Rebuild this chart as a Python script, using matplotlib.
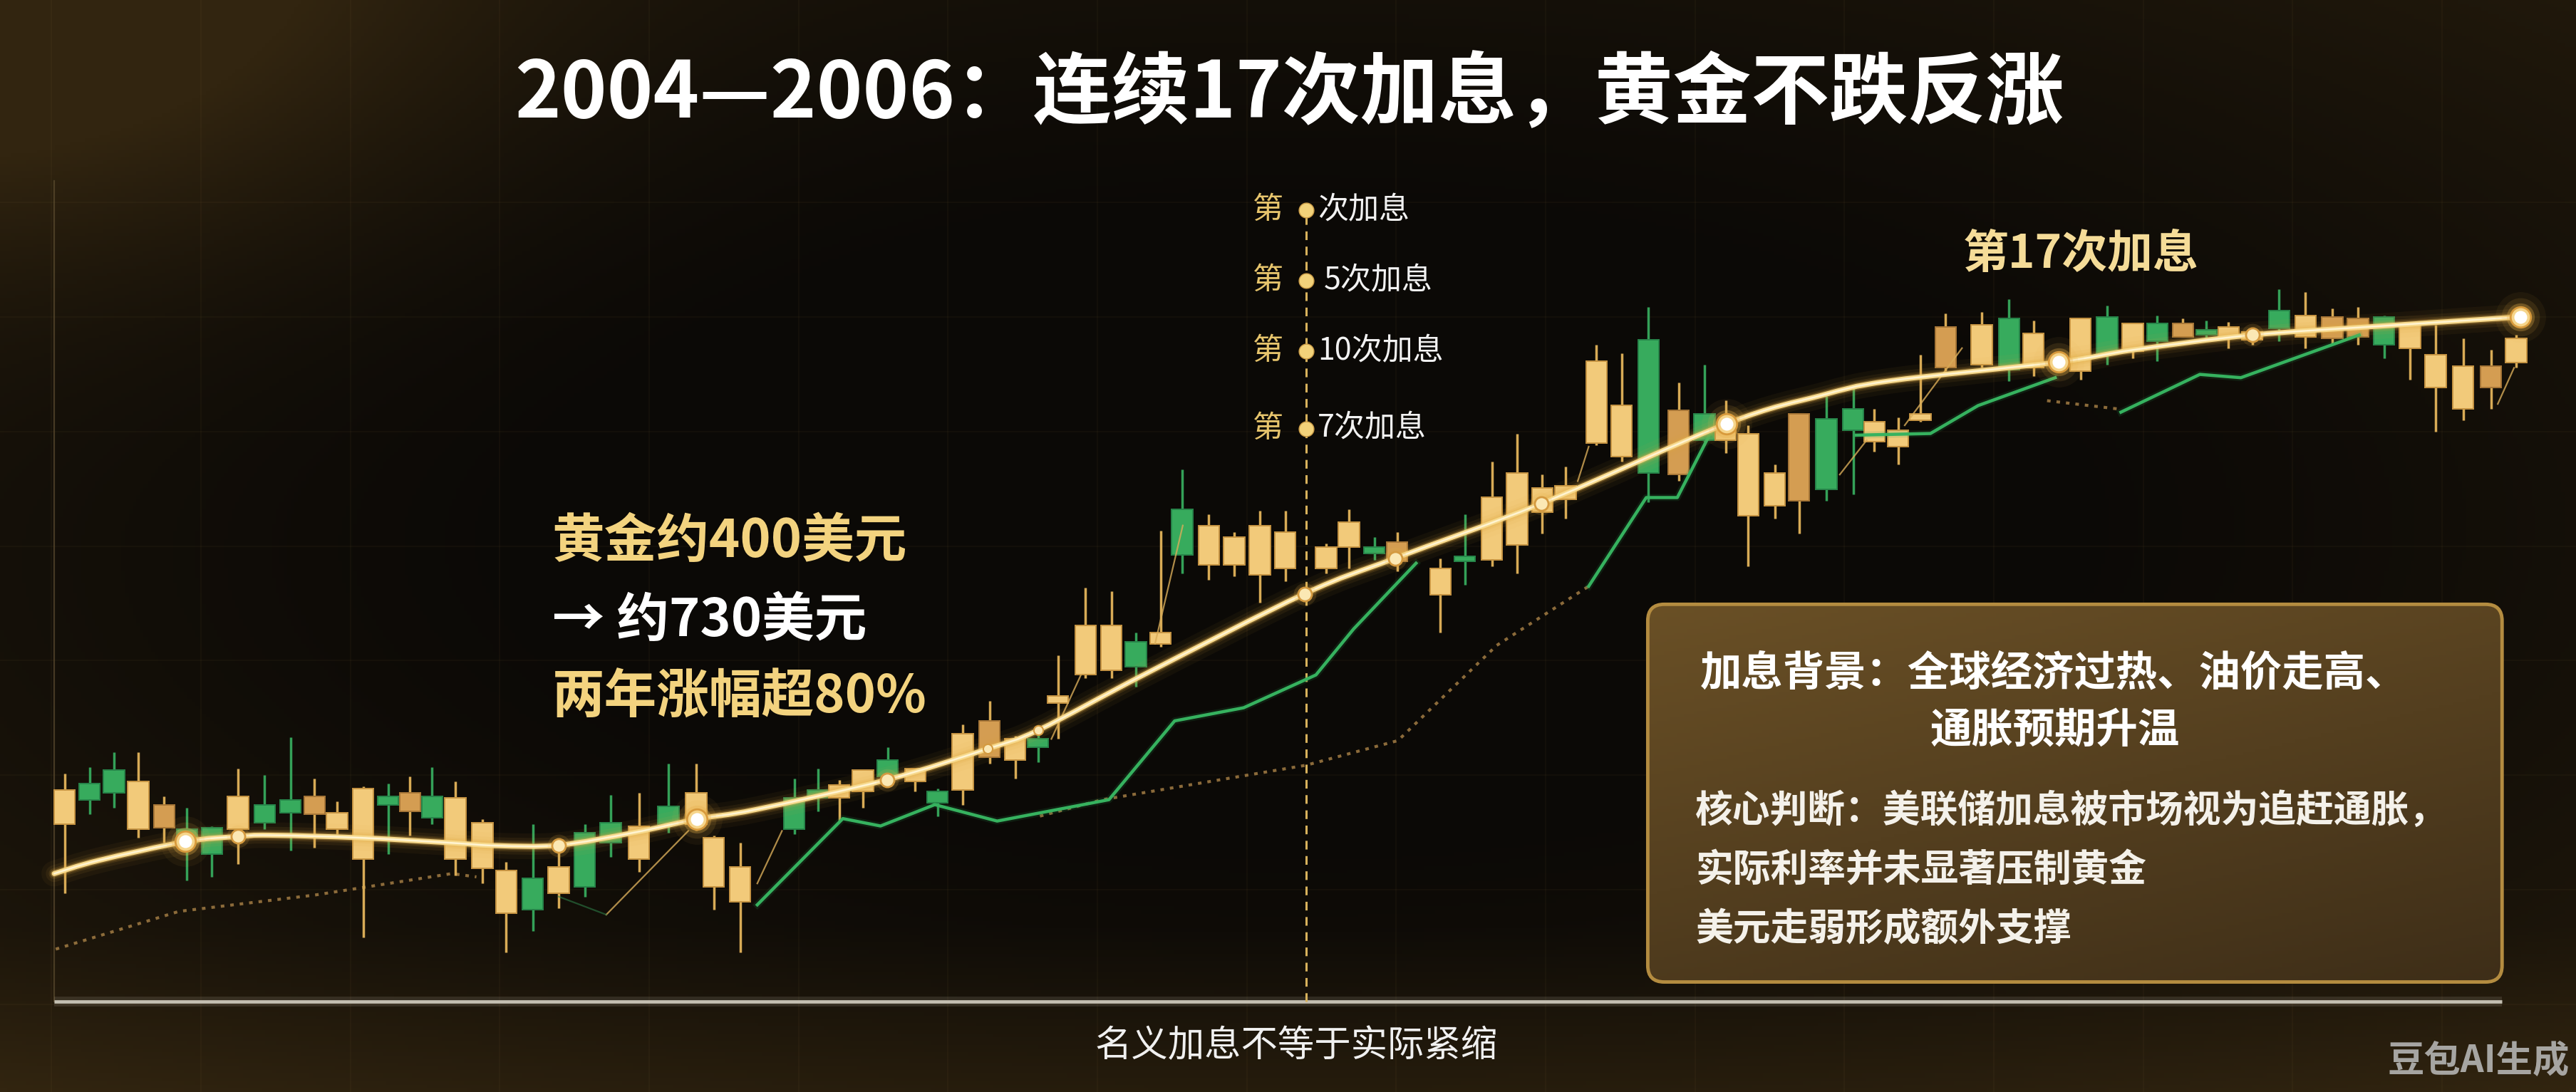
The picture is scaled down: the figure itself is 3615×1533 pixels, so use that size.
import numpy as np
import matplotlib
matplotlib.use("Agg")
import matplotlib.pyplot as plt
from matplotlib.patches import FancyBboxPatch, PathPatch
from matplotlib.path import Path

plt.rcParams["font.family"] = ["Noto Sans CJK SC", "DejaVu Sans"]

# -------------------- Data -------------------- #
# x = weeks from the left edge of the chart, prices in USD/oz

weeks = [0.41, 1.39, 2.35, 3.30, 4.32, 5.21, 6.19, 7.22, 8.26, 9.28,
         10.22, 11.11, 12.13, 13.11, 13.97, 14.84, 15.75, 16.82, 17.75, 18.79,
         19.81, 20.84, 21.85, 22.96, 24.12, 25.21, 25.90, 26.94, 29.06, 30.00,
         30.83, 31.76, 32.73, 33.81, 34.69, 35.68, 36.73, 37.74, 38.63, 39.42,
         40.50, 41.52, 42.48, 43.45, 44.30, 45.34, 46.34, 47.35, 48.34, 49.95,
         50.84, 51.84, 52.74, 54.44, 55.40, 56.46, 57.45, 58.44, 59.35, 60.56,
         61.55, 62.61, 63.79, 64.81, 65.64, 66.52, 67.57, 68.52, 69.59, 70.65,
         71.48, 72.41, 73.29, 74.28, 75.69, 76.77, 77.73, 79.57, 80.62, 81.63,
         82.59, 83.59, 84.52, 85.39, 86.32, 87.37, 88.41, 89.46, 90.47, 91.50,
         92.51, 93.52, 94.60, 95.69, 96.68]
opens = [418, 443, 451, 415, 416, 415, 416, 415, 430, 433,
         424, 415, 397, 435, 426, 435, 397, 391, 364, 385,
         376, 413, 419, 397, 429, 418, 380, 371, 434, 439,
         434, 438, 457, 444, 438, 439, 459, 457, 470, 492,
         509, 512, 529, 528, 610, 576, 576, 570, 574, 574,
         587, 587, 578, 558, 581, 579, 588, 608, 616, 650,
         642, 713, 631, 668, 652, 606, 612, 615, 665, 671,
         651, 648, 664, 696, 698, 726, 696, 694, 727, 706,
         723, 715, 719, 715, 713, 731, 715, 714, 715, 727,
         708, 684, 671, 684, 699]
highs = [449, 453, 462, 462, 435, 428, 417, 452, 448, 471,
         446, 432, 441, 443, 447, 453, 444, 421, 395, 418,
         407, 418, 436, 437, 455, 455, 411, 407, 446, 452,
         445, 451, 465, 452, 440, 479, 493, 472, 478, 521,
         562, 560, 535, 597, 634, 607, 596, 609, 609, 589,
         610, 593, 596, 580, 607, 639, 656, 631, 636, 710,
         705, 733, 687, 698, 676, 661, 637, 668, 679, 684,
         671, 666, 704, 729, 730, 738, 725, 726, 734, 723,
         728, 726, 725, 724, 720, 744, 742, 732, 733, 728,
         723, 722, 714, 707, 716]
lows = [376, 424, 428, 410, 407, 384, 386, 394, 415, 402,
        404, 412, 349, 400, 411, 418, 387, 382, 340, 353,
        367, 374, 398, 389, 413, 414, 366, 340, 412, 426,
        420, 428, 444, 438, 423, 430, 455, 446, 456, 470,
        507, 507, 502, 526, 571, 567, 569, 553, 566, 571,
        574, 579, 572, 535, 564, 575, 571, 595, 604, 649,
        639, 614, 627, 651, 644, 575, 604, 595, 615, 619,
        645, 637, 663, 694, 696, 688, 691, 689, 698, 702,
        700, 715, 712, 708, 710, 712, 708, 710, 710, 702,
        689, 657, 664, 671, 696]
closes = [439, 433, 437, 444, 430, 407, 400, 435, 419, 425,
          435, 425, 440, 430, 437, 422, 434, 419, 390, 366,
          392, 380, 407, 417, 418, 437, 410, 392, 415, 434,
          442, 451, 447, 452, 431, 473, 481, 470, 465, 496,
          539, 539, 514, 535, 582, 600, 593, 600, 596, 587,
          602, 583, 590, 574, 578, 617, 632, 623, 624, 700,
          673, 632, 670, 652, 659, 656, 632, 668, 622, 658,
          663, 658, 668, 721, 722, 695, 717, 726, 705, 723,
          712, 723, 716, 721, 718, 720, 728, 727, 726, 710,
          723, 704, 697, 697, 714]
# candles drawn in the darker gold tone (0-based)
dark_gold = [4, 10, 14, 36, 52, 62, 67, 73, 81, 87, 88, 93]

# smooth gold trend line
trend_w = [0, 1.74, 5.16, 7.23, 8.45, 12.06, 15.61, 17.42, 19.81, 22.77,
           25.23, 27.55, 32.71, 36.65, 38.65, 42.90, 49.10, 52.65, 58.39, 65.68,
           69.35, 72.06, 78.71, 81.68, 86.32, 91.42, 96.84]
trend_p = [388, 396, 407.5, 410.6, 411.4, 409.8, 406.7, 405.0, 405.3, 413,
           421.2, 427, 445.2, 464, 475.4, 510, 558.4, 580, 613.3, 662,
           679, 688, 699.5, 707, 716, 721.5, 727]
marker_big = [2, 10, 19, 22, 26]
marker_mid = [3, 8, 12, 16, 17, 18, 24]
marker_small = [13, 14]

# green line pieces
green_a_w = [27.61, 30.97, 32.45, 34.58, 37.03, 41.42, 44.00, 46.71, 49.55, 51.03, 53.48]
green_a_p = [369, 421.5, 417, 430, 420, 433, 481, 489, 509, 537, 577]
green_b_w = [60.26, 62.52, 63.74, 65.10, 65.61]
green_b_p = [563, 617, 617, 658, 664]
green_c_w = [70.77, 73.68, 75.55, 78.58]
green_c_p = [655, 656, 673, 690]
green_d_w = [81.16, 84.26, 85.87, 90.52]
green_d_p = [669, 692, 690, 716]

# faint dotted line pieces
dot_a_w = [0.06, 4.90, 10.26, 15.61, 16.58]
dot_a_p = [342, 365, 375, 388, 386]
dot_b_w = [38.71, 41.16, 49.16, 52.77, 54.77, 56.65, 60.26]
dot_b_p = [423, 433, 454, 469, 499, 527, 563]
dot_c_w = [78.26, 81.03]
dot_c_p = [676, 671]

# short thin gold strokes
thin_w0 = [27.61, 39.16, 43.23, 59.83, 70.12, 72.67, 95.96, 21.68]
thin_p0 = [382, 470, 528, 627, 631, 661, 674, 363]
thin_w1 = [28.58, 40.32, 44.32, 60.26, 71.18, 74.92, 96.60, 24.90]
thin_p1 = [414, 509, 600, 648, 652, 708, 696, 414]

hike_week = 49.16
hike_labels = ["次加息", "5次加息", "10次加息", "7次加息"]

title = "2004—2006：连续17次加息，黄金不跌反涨"
left_lines = ["黄金约400美元", "→ 约730美元", "两年涨幅超80%"]
box_head = ["加息背景：全球经济过热、油价走高、", "通胀预期升温"]
box_body = ["核心判断：美联储加息被市场视为追赶通胀，",
            "实际利率并未显著压制黄金",
            "美元走弱形成额外支撑"]
footer = "名义加息不等于实际紧缩"


def smooth_path(xs, ys):
    """Catmull-Rom curve through the read points, as cubic Bezier segments."""
    pts = np.column_stack([xs, ys]).astype(float)
    ext = np.vstack([pts[0], pts, pts[-1]])
    verts = [pts[0]]
    codes = [Path.MOVETO]
    for i in range(1, len(ext) - 2):
        p0, p1, p2, p3 = ext[i - 1], ext[i], ext[i + 1], ext[i + 2]
        verts += [p1 + (p2 - p0) / 6, p2 - (p3 - p1) / 6, p2]
        codes += [Path.CURVE4] * 3
    return Path(verts, codes)


# -------------------- Figure -------------------- #
fig = plt.figure(figsize=(36.15, 15.33), dpi=100)
fig.patch.set_facecolor("#0c0a07")

# background gradient
bg = fig.add_axes([0, 0, 1, 1], zorder=0)
bg.axis("off")
yy, xx = np.mgrid[0:1:300j, 0:1:700j]
base = np.array([11, 9, 6]) / 255
warm = np.array([50, 37, 16]) / 255
d = np.sqrt(((xx - 0.5) / 0.62) ** 2 + ((yy - 0.48) / 0.6) ** 2)
v = np.clip(d - 0.45, 0, 1) ** 1.3
corner = np.exp(-(xx ** 2 / 0.03 + yy ** 2 / 0.05))
bottom = np.clip((yy - 0.85) / 0.15, 0, 1) * 0.4
mix = np.clip(v * 0.9 + corner * 0.9 + bottom, 0, 1)[..., None]
bg.imshow(base + (warm - base) * mix, extent=[0, 1, 0, 1], aspect="auto", origin="upper")
bg.set_xlim(0, 1)
bg.set_ylim(0, 1)
for gx in np.arange(0.02, 1.0, 0.058):
    bg.axvline(gx, color="#c8a062", alpha=0.05, lw=1.2)
for gy in np.arange(0.08, 0.9, 0.105):
    bg.axhline(gy, color="#c8a062", alpha=0.05, lw=1.2)

# main chart axes, full figure
ax = fig.add_axes([0, 0, 1, 1], zorder=1)
ax.patch.set_alpha(0)
ax.axis("off")
ax.set_xlim(-33 / 15.5, (1568 - 33) / 15.5)
ax.set_ylim(920 - 665, 920)

# frame: left faint line and bottom axis
ax.plot([0, 0], [310, 810], color="#5c4c30", lw=1.6, alpha=0.7, zorder=2)
ax.plot([0, 96.13], [310, 310], color="#e0dacb", lw=10, alpha=0.12, zorder=2,
        solid_capstyle="butt")
ax.plot([0, 96.13], [310, 310], color="#c4bfb2", lw=3.4, zorder=2,
        solid_capstyle="butt")

# dashed hike marker line
ax.plot([hike_week, hike_week], [310, 792], color="#d8b25c", lw=2.2,
        ls=(0, (4, 3)), zorder=2)

# faint dotted line
for w, p in [(dot_a_w, dot_a_p), (dot_b_w, dot_b_p), (dot_c_w, dot_c_p)]:
    ax.plot(w, p, color="#9a7640", lw=3.0, ls=(0, (1.2, 2.0)), alpha=0.9, zorder=2)

# candles
o = np.array(opens, float)
c = np.array(closes, float)
up = c >= o
body_lo = np.minimum(o, c)
body_h = np.maximum(np.abs(c - o), 2.0)
body_col, edge_col = [], []
for i, u in enumerate(up):
    if not u:
        body_col.append("#37ab5d")
        edge_col.append("#27854a")
    elif i in dark_gold:
        body_col.append("#d49d52")
        edge_col.append("#a77638")
    else:
        body_col.append("#f2ca7a")
        edge_col.append("#c69443")
wick_col = ["#d8ab56" if u else "#34a158" for u in up]
ax.vlines(weeks, lows, highs, colors=wick_col, lw=2.5, zorder=3)
ax.bar(weeks, body_h, bottom=body_lo, width=0.82, color=body_col,
       edgecolor=edge_col, linewidth=1.4, zorder=4)

# thin gold strokes
for w0, p0, w1, p1 in zip(thin_w0, thin_p0, thin_w1, thin_p1):
    ax.plot([w0, w1], [p0, p1], color="#d9ad5a", lw=1.6, alpha=0.8, zorder=4)
ax.plot([19.81, 21.68], [374, 363], color="#2c7a45", lw=1.6, alpha=0.6, zorder=4)

# green line
for w, p in [(green_a_w, green_a_p), (green_b_w, green_b_p),
             (green_c_w, green_c_p), (green_d_w, green_d_p)]:
    ax.plot(w, p, color="#2a9d52", lw=7, alpha=0.15, zorder=5)
    ax.plot(w, p, color="#36b25f", lw=3.2, zorder=5)

# gold trend line with glow, drawn as a smooth curve through the points
trend_path = smooth_path(trend_w, trend_p)
for lw, col, a in [(26, "#e0a640", 0.05), (17, "#e0a640", 0.08),
                   (11, "#e0a640", 0.14), (7.5, "#e8b450", 0.32),
                   (5, "#f7d98c", 1.0), (1.8, "#fff4d2", 1.0)]:
    ax.add_patch(PathPatch(trend_path, facecolor="none", edgecolor=col, lw=lw,
                           alpha=a, capstyle="round", joinstyle="round", zorder=6))

tw = np.array(trend_w)
tp = np.array(trend_p)
for s, a in [(2600, 0.06), (1500, 0.12), (800, 0.3)]:
    ax.scatter(tw[marker_big], tp[marker_big], s=s, color="#e8b24c", alpha=a,
               lw=0, zorder=7)
ax.scatter(tw[marker_big], tp[marker_big], s=420, color="#f6d58a",
           edgecolor="#d89a3c", lw=2, zorder=7)
ax.scatter(tw[marker_big], tp[marker_big], s=170, color="#ffffff", lw=0, zorder=7)
ax.scatter(tw[marker_mid], tp[marker_mid], s=520, color="#e8b24c", alpha=0.15,
           lw=0, zorder=7)
ax.scatter(tw[marker_mid], tp[marker_mid], s=190, color="#fbe8b4",
           edgecolor="#d49a40", lw=2, zorder=7)
ax.scatter(tw[marker_small], tp[marker_small], s=90, color="#fbe8b4",
           edgecolor="#d49a40", lw=1.5, zorder=7)

# -------------------- Layout layer (text, box) -------------------- #
lay = fig.add_axes([0, 0, 1, 1], zorder=8)
lay.patch.set_alpha(0)
lay.axis("off")

lay.text(785, 58, title, ha="center", va="center", fontsize=79,
         fontweight="bold", color="#ffffff")

# hike labels along the dashed line
for k, (lab, ly) in enumerate(zip(hike_labels, [128, 171, 214, 261])):
    lay.text(772, ly, "第", ha="center", va="center", fontsize=31,
             color="#e6c46c")
    lay.plot(795, ly, "o", ms=15, color="#f2d27a", mec="#c99a45", mew=1)
    lay.text(806 if k == 1 else 802, ly, lab, ha="left", va="center",
             fontsize=31, color="#f2f2f2")

lay.text(1195, 155, "第17次加息", ha="left", va="center", fontsize=46,
         fontweight="bold", color="#f5dc98")

left_cols = ["#f3d37f", "#ffffff", "#f3d37f"]
for txt, ly, col in zip(left_lines, [330, 378, 425], left_cols):
    lay.text(336, ly, txt, ha="left", va="center", fontsize=53,
             fontweight="bold", color=col)

# info box with gradient fill
bx0, by0, bw, bh = 1003, 368, 520, 230
box = FancyBboxPatch((bx0, by0), bw, bh,
                     boxstyle="round,pad=0,rounding_size=10",
                     facecolor="none", edgecolor="#b48c40", lw=3.5, zorder=9)
lay.add_patch(box)
gy, gx = np.mgrid[0:1:120j, 0:1:260j]
top_c = np.array([106, 80, 38]) / 255
bot_c = np.array([62, 46, 24]) / 255
t = np.clip(0.65 * gy + 0.35 * gx, 0, 1)[..., None]
im = lay.imshow(top_c + (bot_c - top_c) * t,
                extent=[bx0, bx0 + bw, by0 + bh, by0], aspect="auto",
                zorder=8.5)
im.set_clip_path(box)
lay.set_xlim(0, 1568)
lay.set_ylim(665, 0)

lay.text(1035, 410, box_head[0], ha="left", va="center", fontsize=42,
         fontweight="bold", color="#ffffff", zorder=10)
lay.text(1175, 445, box_head[1], ha="left", va="center", fontsize=42,
         fontweight="bold", color="#ffffff", zorder=10)
for txt, ly in zip(box_body, [494, 530, 566]):
    lay.text(1032, ly, txt, ha="left", va="center", fontsize=38,
             fontweight="bold", color="#f4f1ea", zorder=10)

lay.text(789, 637, footer, ha="center", va="center", fontsize=37,
         color="#f0f0f0")
lay.text(1564, 646, "豆包AI生成", ha="right", va="center", fontsize=37,
         fontweight="bold", color="#bdbdbd", alpha=0.85)

fig.savefig("out.png", dpi=100, facecolor=fig.get_facecolor())
